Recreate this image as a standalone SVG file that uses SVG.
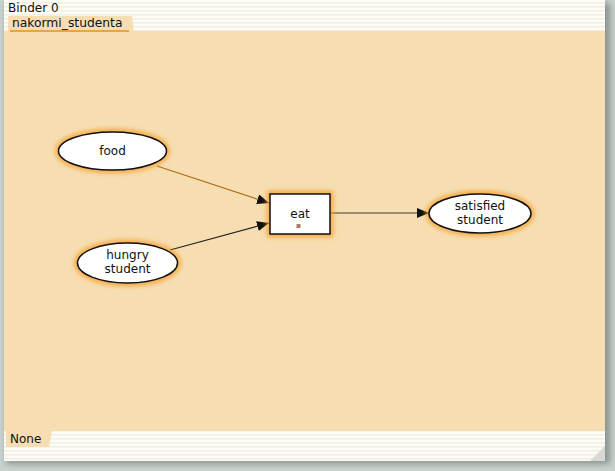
<svg xmlns="http://www.w3.org/2000/svg" width="615" height="471" viewBox="0 0 615 471">
<defs>
<pattern id="stripes" width="4" height="4" patternUnits="userSpaceOnUse">
<rect width="4" height="4" fill="#fdfcf6"/>
<rect y="2" width="4" height="1.5" fill="#f2eee0"/>
</pattern>
<filter id="glow" x="-30%" y="-30%" width="160%" height="160%">
<feGaussianBlur stdDeviation="2.5"/>
</filter>
<filter id="shadow" x="-5%" y="-5%" width="110%" height="110%">
<feGaussianBlur stdDeviation="3"/>
</filter>
<marker id="arrow" viewBox="0 0 12 10" refX="12" refY="5" markerWidth="12" markerHeight="10" markerUnits="userSpaceOnUse" orient="auto">
<path d="M0,0 L12,5 L0,10 z" fill="#111"/>
</marker>
</defs>
<style>
text{font-family:"DejaVu Sans","Liberation Sans",sans-serif;font-size:12px;fill:#111}
.lbl{text-anchor:middle}
.node{fill:#fff;stroke:#111;stroke-width:1.5}
.halo{fill:none;stroke:#f59a20;stroke-width:6;opacity:0.85}
.edge{fill:none;stroke-width:1.2;marker-end:url(#arrow)}
</style>
<rect width="615" height="471" fill="#c9d2cd"/>
<rect x="6" y="3" width="604" height="461" fill="#8a948f" filter="url(#shadow)"/>
<rect x="4" y="0" width="601" height="461" fill="url(#stripes)"/>
<rect x="4" y="31" width="601" height="400" fill="#f6deb2"/>
<text x="8" y="12">Binder 0</text>
<path d="M8,16 H132 L134,32 H8 z" fill="#f6deb2"/>
<text x="12" y="26.8" style="font-size:12.3px">nakormi_studenta</text>
<line x1="10" y1="31" x2="129" y2="31" stroke="#e8901c" stroke-width="1.4"/>
<path d="M6,431 H52 L49,447 H6 z" fill="#f6deb2"/>
<text x="10" y="443">None</text>
<path d="M590,461 L605,446 V461 z" fill="#d8d8d4"/>

<g id="connectors">
<line class="edge" x1="157" y1="166" x2="269" y2="203" stroke="#b06c12" stroke-width="2"/>
<line class="edge" x1="170" y1="250" x2="269" y2="223" stroke="#222"/>
<line class="edge" x1="331" y1="213" x2="429" y2="213" stroke="#4a3a2a"/>
</g>

<g id="food">
<ellipse class="halo" cx="112.5" cy="151" rx="54" ry="19" filter="url(#glow)"/>
<ellipse class="node" cx="112.5" cy="151" rx="54" ry="19"/>
<text class="lbl" x="112.5" y="155">food</text>
</g>
<g id="hungry_student">
<ellipse class="halo" cx="127.5" cy="263" rx="50" ry="20" filter="url(#glow)"/>
<ellipse class="node" cx="127.5" cy="263" rx="50" ry="20"/>
<text class="lbl" x="127.5" y="259">hungry</text>
<text class="lbl" x="127.5" y="273">student</text>
</g>
<g id="eat">
<rect class="halo" x="270" y="194" width="60" height="40" filter="url(#glow)"/>
<rect class="node" x="270" y="194" width="60" height="40"/>
<text class="lbl" x="300" y="218">eat</text>
<rect x="296.5" y="224" width="4" height="4" fill="#b07868"/>
</g>
<g id="satisfied_student">
<ellipse class="halo" cx="480" cy="213.5" rx="51" ry="19.5" filter="url(#glow)"/>
<ellipse class="node" cx="480" cy="213.5" rx="51" ry="19.5"/>
<text class="lbl" x="480" y="210">satisfied</text>
<text class="lbl" x="480" y="224">student</text>
</g>
</svg>
